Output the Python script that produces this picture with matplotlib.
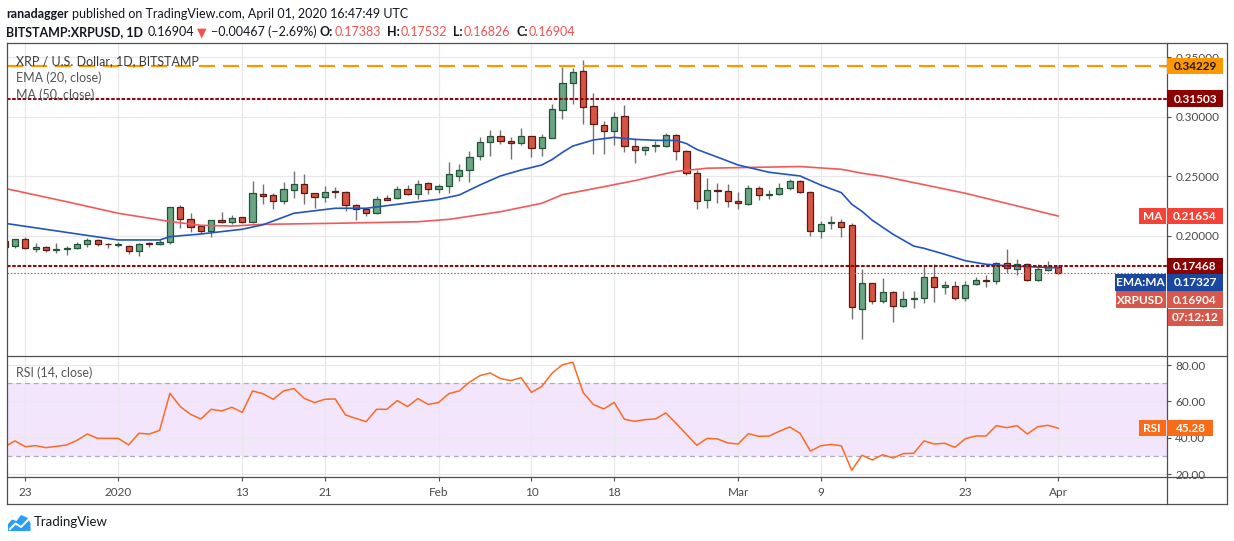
import matplotlib
matplotlib.use("Agg")
import matplotlib.pyplot as plt
import matplotlib.dates as mdates
from matplotlib.lines import Line2D
from matplotlib.patches import Rectangle, Polygon
from matplotlib.transforms import IdentityTransform
import numpy as np
import pandas as pd

FAM = ['Lato', 'DejaVu Sans']
plt.rcParams['font.family'] = FAM

# ---------------- data ----------------
start_date = '2019-12-21'
opens = [0.1959, 0.1912, 0.1971, 0.1892, 0.1904, 0.1878, 0.1887, 0.1895, 0.1929, 0.1962, 0.1931,
         0.1923, 0.1917, 0.1872, 0.1940, 0.1929, 0.1945, 0.2239, 0.2138, 0.2082, 0.2040, 0.2133,
         0.2113, 0.2155, 0.2113, 0.2351, 0.2342, 0.2289, 0.2382, 0.2432, 0.2357, 0.2328, 0.2376,
         0.2367, 0.2258, 0.2222, 0.2189, 0.2317, 0.2315, 0.2390, 0.2348, 0.2440,
         0.2390, 0.2415, 0.2504, 0.2550, 0.2667, 0.2784, 0.2835, 0.2793, 0.2776, 0.2835, 0.2734,
         0.2823, 0.3053, 0.3284, 0.3380, 0.3086, 0.2927, 0.2877, 0.3003, 0.2751, 0.2717, 0.2751,
         0.2751, 0.2846, 0.2709, 0.2524, 0.2298, 0.2384, 0.2373,
         0.2289, 0.2264, 0.2398, 0.2345, 0.2348, 0.2398, 0.2457, 0.2365, 0.2038, 0.2105, 0.2113,
         0.2088, 0.1383, 0.1602, 0.1451, 0.1526, 0.1409, 0.1472, 0.1476, 0.1652, 0.1568, 0.1576,
         0.1476, 0.1593, 0.1627, 0.1618, 0.1769, 0.1719, 0.1761, 0.1627, 0.1711, 0.17383]
highs = [0.1973, 0.1976, 0.1987, 0.1937, 0.1917, 0.1937, 0.1914, 0.1945, 0.1982, 0.1973, 0.1942,
         0.1945, 0.1923, 0.1937, 0.1945, 0.1971, 0.2242, 0.2258, 0.2194, 0.2093, 0.2133, 0.2202,
         0.2174, 0.2160, 0.2460, 0.2435, 0.2357, 0.2451, 0.2544, 0.2518, 0.2362, 0.2418, 0.2412,
         0.2373, 0.2267, 0.2236, 0.2334, 0.2342, 0.2418, 0.2429, 0.2468, 0.2451,
         0.2435, 0.2619, 0.2602, 0.2711, 0.2826, 0.2888, 0.2888, 0.2826, 0.2902, 0.2838, 0.2852,
         0.3106, 0.3416, 0.3405, 0.3475, 0.3198, 0.2961, 0.3039, 0.3097, 0.2818, 0.2751, 0.2798,
         0.2862, 0.2854, 0.2720, 0.2548, 0.2485, 0.2443, 0.2435,
         0.2367, 0.2424, 0.2415, 0.2384, 0.2443, 0.2477, 0.2466, 0.2373, 0.2127, 0.2164, 0.2138,
         0.2105, 0.1719, 0.1602, 0.1643, 0.1539, 0.1534, 0.1537, 0.1744, 0.1761, 0.1621, 0.1618,
         0.1618, 0.1652, 0.1669, 0.1778, 0.1887, 0.1803, 0.1769, 0.1761, 0.1786, 0.17532]
lows = [0.1898, 0.1900, 0.1887, 0.1867, 0.1862, 0.1858, 0.1841, 0.1887, 0.1904, 0.1912, 0.1895,
        0.1909, 0.1845, 0.1833, 0.1904, 0.1925, 0.1934, 0.2068, 0.2029, 0.2021, 0.1992, 0.2105,
        0.2099, 0.2105, 0.2105, 0.2264, 0.2222, 0.2269, 0.2315, 0.2264, 0.2236, 0.2286, 0.2315,
        0.2211, 0.2130, 0.2166, 0.2183, 0.2298, 0.2306, 0.2342, 0.2309, 0.2348,
        0.2362, 0.2357, 0.2462, 0.2449, 0.2636, 0.2672, 0.2773, 0.2642, 0.2764, 0.2664, 0.2672,
        0.2818, 0.2982, 0.3108, 0.2940, 0.2689, 0.2689, 0.2759, 0.2701, 0.2613, 0.2680, 0.2706,
        0.2742, 0.2638, 0.2506, 0.2229, 0.2237, 0.2278, 0.2244,
        0.2227, 0.2256, 0.2298, 0.2306, 0.2342, 0.2382, 0.2357, 0.2001, 0.1979, 0.2055, 0.1992,
        0.1298, 0.1138, 0.1424, 0.1434, 0.1274, 0.1400, 0.1394, 0.1439, 0.1447, 0.1514, 0.1459,
        0.1450, 0.1585, 0.1568, 0.1593, 0.1685, 0.1669, 0.1618, 0.1618, 0.1702, 0.16826]
closes = [0.1909, 0.1971, 0.1895, 0.1904, 0.1878, 0.1889, 0.1898, 0.1929, 0.1962, 0.1929, 0.1929,
          0.1931, 0.1872, 0.1929, 0.1931, 0.1948, 0.2239, 0.2138, 0.2071, 0.2038, 0.2130, 0.2113,
          0.2147, 0.2113, 0.2359, 0.2331, 0.2289, 0.2390, 0.2435, 0.2357, 0.2323, 0.2367, 0.2370,
          0.2256, 0.2222, 0.2189, 0.2306, 0.2303, 0.2390, 0.2348, 0.2432, 0.2390,
          0.2415, 0.2516, 0.2550, 0.2659, 0.2784, 0.2835, 0.2793, 0.2776, 0.2835, 0.2734, 0.2826,
          0.3061, 0.3279, 0.3372, 0.3078, 0.2935, 0.2877, 0.2994, 0.2751, 0.2717, 0.2742, 0.2759,
          0.2846, 0.2709, 0.2524, 0.2289, 0.2382, 0.2373, 0.2289,
          0.2273, 0.2398, 0.2340, 0.2351, 0.2398, 0.2457, 0.2365, 0.2038, 0.2096, 0.2113, 0.2076,
          0.1400, 0.1602, 0.1451, 0.1526, 0.1409, 0.1467, 0.1478, 0.1652, 0.1568, 0.1585, 0.1476,
          0.1585, 0.1627, 0.1618, 0.1769, 0.1727, 0.1761, 0.1627, 0.1719, 0.1737, 0.16904]
rsi = [35.1, 38.3, 35.1, 35.7, 34.6, 35.3, 36.1, 38.6, 42.1, 39.7, 39.7,
       39.7, 36.1, 42.5, 42.1, 44.1, 64.5, 57.2, 52.9, 50.4, 55.7, 54.8, 56.8, 54.0, 65.8, 64.3,
       61.2, 65.8, 67.1, 61.7, 59.4, 61.2, 61.4, 52.6, 50.7, 48.9, 55.7, 55.7, 60.5, 57.2, 61.6, 58.4,
       59.4, 64.3, 65.8, 70.6, 74.2, 75.7, 72.6, 71.5, 73.1, 65.0, 68.3, 75.6, 80.2, 81.6, 64.9,
       58.3, 55.9, 59.5, 50.2, 49.1, 50.0, 50.4, 53.7, 48.0, 41.9, 35.9, 39.7, 39.4, 37.2,
       36.6, 42.3, 40.8, 41.0, 43.6, 46.0, 42.5, 32.7, 35.6, 36.4, 35.6, 22.1, 30.4, 27.8, 30.7,
       28.9, 31.3, 31.5, 38.3, 36.6, 37.0, 34.8, 39.5, 41.0, 41.0, 46.7, 45.6, 46.7, 42.1, 46.1, 46.9,
       45.28]
ema_dates = ['2019-12-21', '2020-01-01', '2020-01-05', '2020-01-06', '2020-01-09', '2020-01-13',
             '2020-01-15', '2020-01-18', '2020-01-22', '2020-01-25', '2020-01-28', '2020-01-30',
             '2020-02-01', '2020-02-03', '2020-02-05', '2020-02-07', '2020-02-09', '2020-02-11',
             '2020-02-12', '2020-02-13', '2020-02-14', '2020-02-16', '2020-02-18', '2020-02-20',
             '2020-02-22', '2020-02-24', '2020-02-25', '2020-02-26', '2020-02-28', '2020-03-01',
             '2020-03-04', '2020-03-07', '2020-03-09', '2020-03-11', '2020-03-12', '2020-03-13',
             '2020-03-14', '2020-03-16', '2020-03-18', '2020-03-19', '2020-03-20', '2020-03-21',
             '2020-03-23', '2020-03-25', '2020-03-27', '2020-03-29', '2020-03-31', '2020-04-01']
ema_vals = [0.2105, 0.1965, 0.1965, 0.1993, 0.2015, 0.2055,
            0.2092, 0.2189, 0.2231, 0.2231, 0.2264, 0.2286,
            0.2306, 0.2342, 0.2426, 0.2502, 0.2552, 0.2594,
            0.2640, 0.2700, 0.2753, 0.2804, 0.2826, 0.2809,
            0.2801, 0.2800, 0.2774, 0.2725, 0.2660, 0.2594,
            0.2533, 0.2502, 0.2426, 0.2362, 0.2265, 0.2205,
            0.2130, 0.2013, 0.1914, 0.1895, 0.1870, 0.1845,
            0.1791, 0.1761, 0.1749, 0.1741, 0.1734, 0.17327]
ma_dates = ['2019-12-21', '2019-12-27', '2020-01-01', '2020-01-06', '2020-01-09', '2020-01-12',
            '2020-01-15', '2020-01-22', '2020-01-30', '2020-02-02', '2020-02-07', '2020-02-11',
            '2020-02-13', '2020-02-17', '2020-02-20', '2020-02-23', '2020-02-24', '2020-02-27',
            '2020-03-03', '2020-03-07', '2020-03-11', '2020-03-13', '2020-03-15', '2020-03-23',
            '2020-04-01']
ma_vals = [0.2398, 0.2286, 0.2189, 0.2120, 0.2088, 0.2082,
           0.2096, 0.2105, 0.2118, 0.2138, 0.2202, 0.2273,
           0.2345, 0.2412, 0.2463, 0.2522, 0.2540, 0.2567,
           0.2575, 0.2581, 0.2558, 0.2525, 0.2500, 0.2357,
           0.21654]
level_top = 0.34229
level_res = 0.31503
level_sup = 0.17468
last_price = 0.16904
ema_last = 0.17327
ma_last = 0.21654
rsi_last = 45.28
countdown = '07:12:12'
xtick_dates = ['2019-12-23', '2020-01-01', '2020-01-13', '2020-01-21', '2020-02-01', '2020-02-10',
               '2020-02-18', '2020-03-01', '2020-03-09', '2020-03-23', '2020-04-01']
xtick_labels = ['23', '2020', '13', '21', 'Feb', '10', '18', 'Mar', '9', '23', 'Apr']
price_ticks = [0.20, 0.25, 0.30, 0.35]
rsi_ticks = [20, 40, 60, 80]

# ---------------- layout ----------------
W, H = 1234, 541
fig = plt.figure(figsize=(W / 100, H / 100), dpi=100)
fig.patch.set_facecolor('white')
renderer = fig.canvas.get_renderer()


def fr(x0, y0, x1, y1):
    return [x0 / W, 1 - y1 / H, (x1 - x0) / W, (y1 - y0) / H]


PL, PR = 6.7, 1167
ax = fig.add_axes(fr(PL, 43, PR, 355.5))
rax = fig.add_axes(fr(PL, 355.5, PR, 477), sharex=ax)
for a in (ax, rax):
    for s in a.spines.values():
        s.set_visible(False)
    a.set_facecolor('none')

dates = pd.date_range(start_date, periods=len(closes), freq='D')
x = mdates.date2num(dates)
d0 = mdates.date2num(pd.Timestamp('2019-12-23'))
PXD = 10.33
ax.set_xlim(d0 + (PL - 25.3) / PXD, d0 + (PR - 25.3) / PXD)
ax.set_ylim((474.2 - 355.5) / 1192, (474.2 - 43) / 1192)
rax.set_ylim(70 - (477 - 383.3) * 0.5502, 70 + (383.3 - 355.5) * 0.5502)

GRID = '#e8e8ea'
AXC = '#4f4f4f'
TXT = '#4a4a4a'
xt = mdates.date2num(pd.to_datetime(xtick_dates))
for a in (ax, rax):
    a.set_xticks(xt)
    a.grid(True, color=GRID, lw=0.9, zorder=0)
    a.set_axisbelow(True)
ax.tick_params(axis='x', length=0, labelbottom=False)
rax.set_xticklabels(xtick_labels)
rax.tick_params(axis='x', length=3, width=0.8, color=AXC, labelcolor=TXT, labelsize=8.5, pad=4.5)

ax.yaxis.tick_right()
ax.set_yticks(price_ticks)
ax.set_yticklabels([f'{v:.5f}' for v in price_ticks])
rax.yaxis.tick_right()
rax.set_yticks(rsi_ticks)
rax.set_yticklabels([f'{v:.2f}' for v in rsi_ticks])
for a in (ax, rax):
    a.tick_params(axis='y', length=3, width=0.8, color=AXC, labelcolor=TXT, labelsize=8.5, pad=3)

# ---------------- candles ----------------
o = np.array(opens); h = np.array(highs); l = np.array(lows); c = np.array(closes)
up = c >= o
bot = np.minimum(o, c)
hgt = np.maximum(np.abs(c - o), 0.0005)
ax.vlines(x, l, h, color='#737375', lw=1.0, zorder=3)
ax.bar(x[up], hgt[up], bottom=bot[up], width=0.6, color='#6ba583', edgecolor='#225437', lw=0.9, zorder=4)
ax.bar(x[~up], hgt[~up], bottom=bot[~up], width=0.6, color='#d75442', edgecolor='#5b1a13', lw=0.9, zorder=4)

# moving averages
ax.plot(mdates.date2num(pd.to_datetime(ma_dates)), ma_vals, color='#f25a5a', lw=1.2, zorder=5)
ax.plot(mdates.date2num(pd.to_datetime(ema_dates)), ema_vals, color='#2355c0', lw=1.2, zorder=5)

# horizontal levels
ax.axhline(level_top, color='#ff9800', lw=1.6, dashes=(7.2, 3.6), zorder=6)
ax.axhline(level_res, color='#8e0a0a', lw=1.5, dashes=(1.7, 0.8), zorder=6)
ax.axhline(level_sup, color='#8e0a0a', lw=1.5, dashes=(1.7, 0.8), zorder=6)
ax.axhline(last_price, color='#d9574a', lw=0.8, dashes=(1.5, 1.5), zorder=6)

# RSI
rax.axhspan(30, 70, color='#f3e5fc', zorder=0.5, lw=0)
rax.axhline(70, color='#b3a8bd', lw=0.9, dashes=(4, 3), zorder=1)
rax.axhline(30, color='#b3a8bd', lw=0.9, dashes=(4, 3), zorder=1)
rax.plot(x, rsi, color='#fc6b21', lw=1.1, zorder=5)

# ---------------- frame ----------------
def fline(x0, y0, x1, y1, color=AXC, lw=0.9):
    fig.add_artist(Line2D([x0 / W, x1 / W], [1 - y0 / H, 1 - y1 / H], color=color, lw=lw,
                          transform=fig.transFigure, zorder=30))


RB = 1227
for yy in (43, 355.5, 477, 504):
    fline(PL, yy, RB, yy)
for xx in (PL, PR, RB):
    fline(xx, 43, xx, 504)

# ---------------- price tags ----------------
ID = IdentityTransform()


def tag(axis, yval, text, fc, tc, x0, x1, dy=0.0, hh=16.5, fs=8.5):
    yd = axis.transData.transform((axis.get_xlim()[0], yval))[1] - dy
    fig.add_artist(Rectangle((x0, yd - hh / 2), x1 - x0, hh, transform=ID, fc=fc, ec='none', zorder=40))
    fig.text((x0 + x1) / 2, yd - 0.5, text, transform=ID, ha='center', va='center', color=tc,
             fontsize=fs, fontweight='bold', zorder=41)


tag(ax, level_top, f'{level_top:.5f}', '#ff9800', '#1a1a1a', 1167, 1223)
tag(ax, level_res, f'{level_res:.5f}', '#8b0000', 'white', 1167, 1223)
tag(ax, ma_last, 'MA', '#f44336', 'white', 1139, 1165.5)
tag(ax, ma_last, f'{ma_last:.5f}', '#f44336', 'white', 1167, 1223)
tag(ax, level_sup, f'{level_sup:.5f}', '#8b0000', 'white', 1167, 1223)
tag(ax, ema_last, 'EMA:MA', '#1a47a0', 'white', 1115, 1165.5, dy=14.8)
tag(ax, ema_last, f'{ema_last:.5f}', '#1a47a0', 'white', 1167, 1223, dy=14.8)
tag(ax, last_price, 'XRPUSD', '#d9574a', 'white', 1116, 1165.5, dy=26.8)
tag(ax, last_price, f'{last_price:.5f}', '#d9574a', 'white', 1167, 1223, dy=26.8)
tag(ax, last_price, countdown, '#d9574a', 'white', 1167.7, 1222.7, dy=44.6)
tag(rax, rsi_last, 'RSI', '#f96b16', 'white', 1139, 1165.5)
tag(rax, rsi_last, f'{rsi_last:.2f}', '#f96b16', 'white', 1167, 1213)

# ---------------- texts ----------------
def ptext(px, py, s, color='#131722', fs=9.0, weight='normal', ha='left'):
    return fig.text(px / W, 1 - py / H, s, color=color, fontsize=fs, fontweight=weight, ha=ha, va='center')


def chain(px, py, parts, fs=9.0):
    for s, color, weight, gap in parts:
        t = ptext(px, py, s, color=color, fs=fs, weight=weight)
        px += t.get_window_extent(renderer=renderer).width + gap


RED = '#ef5350'
DARK = '#131722'
chain(6, 14, [('ranadagger', DARK, 'bold', 3.5),
              ('published on TradingView.com, April 01, 2020 16:47:49 UTC', DARK, 'normal', 0)])
chain(6, 32, [('BITSTAMP:XRPUSD, 1D', DARK, 'bold', 4.5),
              ('0.16904', DARK, 'normal', 3),
              ('▼', RED, 'normal', 4),
              ('−0.00467 (−2.69%)', DARK, 'normal', 3.5),
              ('O:', DARK, 'bold', 1),
              ('0.17383', RED, 'normal', 6),
              ('H:', DARK, 'bold', 1),
              ('0.17532', RED, 'normal', 6),
              ('L:', DARK, 'bold', 1),
              ('0.16826', RED, 'normal', 6),
              ('C:', DARK, 'bold', 1),
              ('0.16904', RED, 'normal', 0)])

ptext(15.5, 61, 'XRP / U.S. Dollar, 1D, BITSTAMP', color='#3d3d3d', fs=9.0)
ptext(15.5, 78, 'EMA (20, close)', color='#555555', fs=9.0)
ptext(15.5, 94.5, 'MA (50, close)', color='#555555', fs=9.0)
ptext(15.5, 373, 'RSI (14, close)', color='#555555', fs=9.0)

# TradingView logo
pts = [(8, 531), (8, 524), (12, 519.5), (16.5, 521), (21, 515), (27, 517.5), (30.5, 523), (30.5, 531)]
fig.add_artist(Polygon([(px / W, 1 - py / H) for px, py in pts], closed=True, fc='#2a9df4', ec='none',
                       transform=fig.transFigure))
fig.add_artist(Line2D([p / W for p in (10, 15.5, 21, 28)], [1 - p / H for p in (529, 523.5, 527, 520)],
                      color='white', lw=1.4, transform=fig.transFigure))
ptext(34, 522.5, 'TradingView', color='#131722', fs=9.5)

fig.savefig('out.png', dpi=100, facecolor='white')
